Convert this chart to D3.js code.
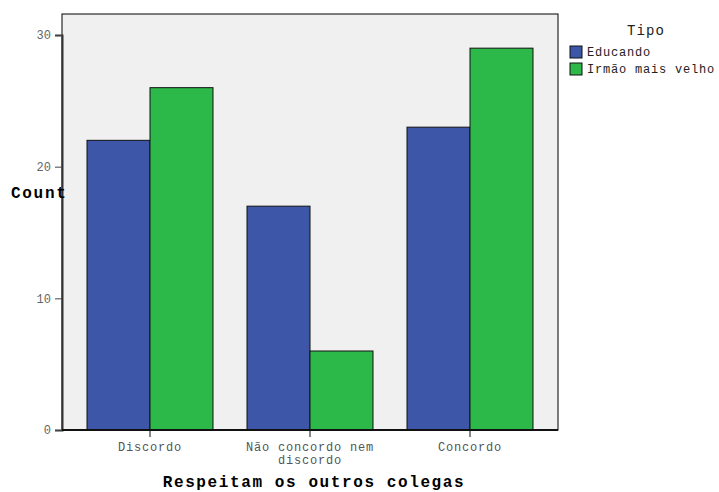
<!DOCTYPE html>
<html><head><meta charset="utf-8">
<script src="https://cdn.jsdelivr.net/npm/d3@7"></script>
<style>body{margin:0;background:#fff}svg{display:block}</style>
</head><body>
<svg id="c" width="719" height="492"></svg>
<script>
const categories = ["Discordo", "Não concordo nem discordo", "Concordo"];
const categoryLines = [["Discordo"], ["Não concordo nem", "discordo"], ["Concordo"]];
const series = ["Educando", "Irmão mais velho"];
const educando = [22, 17, 23];
const irmao = [26, 6, 29];
const yTicks = [0, 10, 20, 30];
const colors = ["#3D56A8", "#2DB84A"];

const svg = d3.select("#c");
const L = 62, R = 558, T = 14, B = 430;
const font = "'Liberation Mono', 'DejaVu Sans Mono', monospace";

const x0 = d3.scaleBand().domain(categories).range([L, R]).paddingInner(0).paddingOuter(0.05);
const x1 = d3.scaleBand().domain(series).range([0, x0.bandwidth()]).paddingInner(0).paddingOuter(0.27);
const y = d3.scaleLinear().domain([0, 30]).range([B, 35]);

svg.append("rect").attr("x", L).attr("y", T).attr("width", R - L).attr("height", B - T)
  .attr("fill", "#F0F0F0").attr("stroke", "#000").attr("stroke-width", 1);

const data = categories.map((c, i) => ({c, v: [educando[i], irmao[i]]}));
const g = svg.append("g");
data.forEach(d => {
  series.forEach((s, j) => {
    g.append("rect")
      .attr("x", x0(d.c) + x1(s))
      .attr("y", y(d.v[j]))
      .attr("width", x1.bandwidth())
      .attr("height", B - y(d.v[j]))
      .attr("fill", colors[j])
      .attr("stroke", "#111").attr("stroke-width", 1);
  });
});

// Y axis
const yAxis = d3.axisLeft(y).tickValues(yTicks).tickSize(7).tickPadding(4);
const ya = svg.append("g").attr("transform", `translate(${L},0)`).call(yAxis);
ya.select(".domain").attr("stroke", "#333").attr("stroke-width", 2);
ya.selectAll(".tick line").attr("stroke", "#444");
ya.selectAll("text").attr("font-family", font).attr("font-size", 12).attr("fill", "#666");

// X axis
const xAxis = d3.axisBottom(x0).tickSize(7).tickFormat("");
const xa = svg.append("g").attr("transform", `translate(0,${B})`).call(xAxis);
xa.select(".domain").attr("stroke", "#111").attr("stroke-width", 2).attr("d", `M${L},0H${R}`);
xa.selectAll(".tick line").attr("stroke", "#111");
xa.selectAll(".tick").each(function(d, i) {
  const t = d3.select(this).append("text").attr("fill", "#555")
    .attr("font-family", font).attr("font-size", 12).attr("letter-spacing", 0.8)
    .attr("text-anchor", "middle");
  categoryLines[i].forEach((ln, k) => t.append("tspan").attr("x", 0).attr("y", 21 + k * 13).text(ln));
});

// Titles
svg.append("text").attr("x", 11).attr("y", 198).attr("font-family", font)
  .attr("font-weight", "bold").attr("font-size", 16).attr("letter-spacing", 1.7)
  .attr("fill", "#000").text("Count");
svg.append("text").attr("x", 314).attr("y", 487).attr("text-anchor", "middle").attr("font-family", font)
  .attr("font-weight", "bold").attr("font-size", 16).attr("letter-spacing", 1.6)
  .attr("fill", "#000").text("Respeitam os outros colegas");

// Legend
svg.append("text").attr("x", 646).attr("y", 35).attr("text-anchor", "middle").attr("font-family", font)
  .attr("font-size", 14).attr("letter-spacing", 1.1).attr("fill", "#222").text("Tipo");
series.forEach((s, j) => {
  const yy = 46 + j * 17;
  svg.append("rect").attr("x", 570).attr("y", yy).attr("width", 12).attr("height", 12)
    .attr("fill", colors[j]).attr("stroke", "#111");
  svg.append("text").attr("x", 587).attr("y", yy + 10).attr("font-family", font)
    .attr("font-size", 12).attr("letter-spacing", 0.8).attr("fill", "#222").text(s);
});
</script>
</body></html>
